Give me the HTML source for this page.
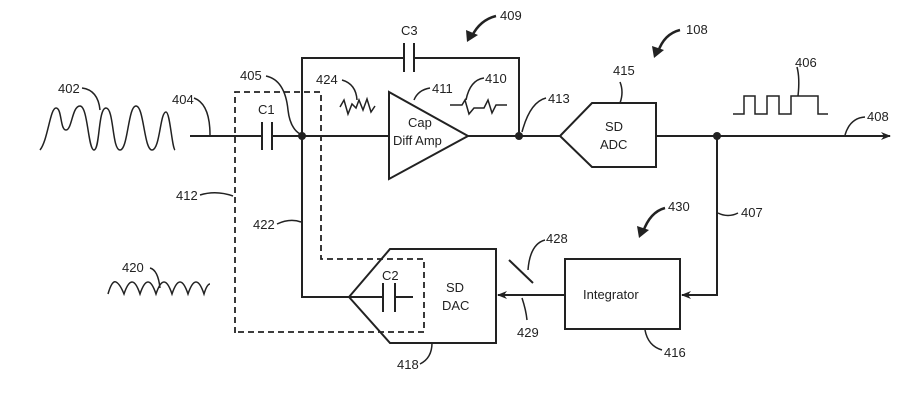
<!DOCTYPE html>
<html><head><style>html,body{margin:0;padding:0;background:#fff}svg{display:block}text{font-family:"Liberation Sans",sans-serif;font-size:13px;fill:#222}</style></head>
<body>
<svg width="901" height="409" viewBox="0 0 901 409" xmlns="http://www.w3.org/2000/svg">
<defs><marker id="ar" markerWidth="10" markerHeight="8" refX="9" refY="4" orient="auto" markerUnits="userSpaceOnUse"><path d="M0,0 L10,4 L0,8 L3,4 Z" fill="#222"/></marker></defs>
<g stroke="#222" stroke-width="2" fill="none">
<path d="M190,136 H262 M272,136 H388"/>
<path d="M262,122 V150 M272,122 V150"/>
<path d="M468,136 H560 M656,136 H890" marker-end="url(#ar)"/>
<path d="M302,136 V58 H404 M414,58 H519 V136"/>
<path d="M404,43 V72 M414,43 V72"/>
<path d="M389,92 L468,136 L389,179 Z"/>
<path d="M560,136 L592,103 H656 V167 H592 Z"/>
<path d="M349,297 L390,249 H496 V343 H390 Z"/>
<path d="M302,136 V297 H349 M349,297 H383 M395,297 H413"/>
<path d="M383,283 V312 M395,283 V312"/>
<rect x="565" y="259" width="115" height="70"/>
<path d="M565,295 H498" marker-end="url(#ar)"/>
<path d="M717,136 V295 H682" marker-end="url(#ar)"/>
<path d="M509,260 L533,283"/>
</g>
<g stroke="#222" stroke-width="1.8" fill="none" stroke-dasharray="6,4">
<path d="M235,333 V92 H321 V259 H424 V332 H235"/>
</g>
<g fill="#222"><circle cx="302" cy="136" r="4"/><circle cx="519" cy="136" r="4"/><circle cx="717" cy="136" r="4"/></g>
<g stroke="#222" stroke-width="1.5" fill="none">
<path d="M40,150 C48,140 50,108 56,108 C62,108 60,130 66,130 C72,130 72,106 80,106 C88,106 88,150 94,150 C100,150 98,108 106,108 C114,108 112,150 120,150 C128,150 128,106 136,106 C144,106 144,150 152,150 C160,150 160,112 166,112 C170,112 172,148 175,150"/>
<path d="M108,294 Q112,280 116,282 Q120,284 124,294 Q128,282 132,282 Q136,282 140,294 Q144,282 148,282 Q152,282 156,294 Q160,282 164,282 Q168,282 172,294 Q176,282 180,282 Q184,282 188,294 Q192,282 196,282 Q200,282 204,294 Q207,284 210,284"/>
<path d="M340,107 L344,100 L348,114 L352,104 L356,108 L359,100 L363,110 L367,99 L371,112 L375,106"/>
<path d="M450,105 H462 L465,100 L469,114 L474,108 H484 L488,100 L492,113 L496,105 H507"/>
<path d="M733,114 H744 V96 H755 V114 H767 V96 H779 V114 H791 V96 H818 V114 H828"/>
<path d="M82,88 Q98,90 100,110"/>
<path d="M194,98 Q210,104 210,135"/>
<path d="M266,76 Q285,80 288,110 Q290,128 300,134"/>
<path d="M342,80 Q356,84 357,100"/>
<path d="M430,88 Q418,90 414,100"/>
<path d="M484,78 Q470,80 466,100"/>
<path d="M546,98 Q530,102 522,132"/>
<path d="M620,82 Q624,92 620,103"/>
<path d="M797,67 Q800,78 798,96"/>
<path d="M865,117 Q850,118 845,135"/>
<path d="M200,195 Q216,190 233,196"/>
<path d="M277,224 Q290,218 301,222"/>
<path d="M150,268 Q158,270 160,288"/>
<path d="M545,240 Q530,244 528,270"/>
<path d="M522,298 Q526,310 527,320"/>
<path d="M432,343 Q432,358 420,364"/>
<path d="M645,330 Q648,346 662,350"/>
<path d="M738,213 Q728,218 718,213"/>
</g>
<g stroke="#222" stroke-width="2.5" fill="none">
<path d="M496,16 Q480,20 472,36"/>
<path d="M680,30 Q664,34 658,52"/>
<path d="M665,208 Q650,212 643,232"/>
</g>
<g fill="#222">
<path d="M467,42 L466,30 L478,35 Z"/>
<path d="M654,58 L652,46 L664,50 Z"/>
<path d="M639,238 L637,226 L649,230 Z"/>
</g>
<text x="58" y="93">402</text>
<text x="172" y="104">404</text>
<text x="240" y="80">405</text>
<text x="316" y="84">424</text>
<text x="401" y="35">C3</text>
<text x="258" y="114">C1</text>
<text x="432" y="93">411</text>
<text x="485" y="83">410</text>
<text x="548" y="103">413</text>
<text x="613" y="75">415</text>
<text x="500" y="20">409</text>
<text x="686" y="34">108</text>
<text x="795" y="67">406</text>
<text x="867" y="121">408</text>
<text x="408" y="127">Cap</text>
<text x="393" y="145">Diff Amp</text>
<text x="605" y="131">SD</text>
<text x="600" y="149">ADC</text>
<text x="176" y="200">412</text>
<text x="253" y="229">422</text>
<text x="122" y="272">420</text>
<text x="382" y="280">C2</text>
<text x="446" y="292">SD</text>
<text x="442" y="310">DAC</text>
<text x="583" y="299">Integrator</text>
<text x="546" y="243">428</text>
<text x="517" y="337">429</text>
<text x="397" y="369">418</text>
<text x="664" y="357">416</text>
<text x="668" y="211">430</text>
<text x="741" y="217">407</text>
</svg>
</body></html>
